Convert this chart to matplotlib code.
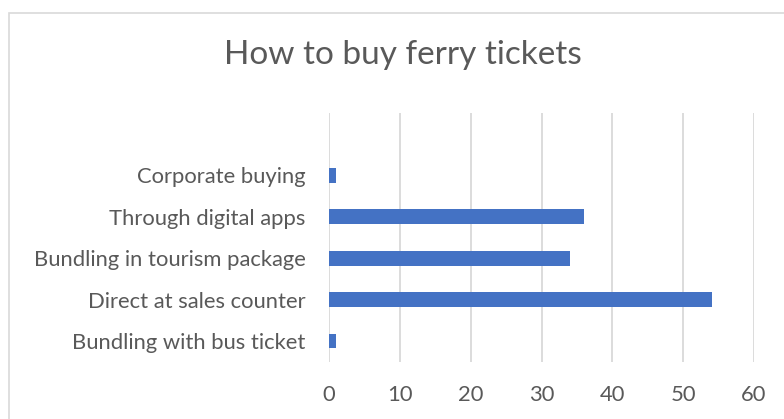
import matplotlib.pyplot as plt
from matplotlib.patches import Rectangle

# data (bottom to top)
categories = ["Bundling with bus ticket", "Direct at sales counter",
              "Bundling in tourism package", "Through digital apps",
              "Corporate buying"]
values = [1, 54, 34, 36, 1]
x_ticks = [0, 10, 20, 30, 40, 50, 60]

plt.rcParams['font.family'] = ['Lato', 'DejaVu Sans']
text_color = '#595959'
grid_color = '#d9d9d9'
bar_color = '#4472c4'

fig = plt.figure(figsize=(7.84, 4.19), dpi=100)

# chart frame (runs off right and bottom edge like the screenshot)
fig.patches.append(Rectangle((9 / 784, -0.05), 1.0, 1 - 13 / 419 + 0.05,
                             transform=fig.transFigure, fill=False,
                             edgecolor=grid_color, linewidth=1.2))

ax = fig.add_axes([329 / 784, (419 - 361.7) / 419,
                   (754 - 329) / 784, (361.7 - 113) / 419])

ypos = list(range(len(categories)))
ax.barh(ypos, values, height=0.36, color=bar_color, zorder=3)

ax.set_xlim(0, 60)
ax.set_ylim(-0.5, len(categories) + 0.5)
ax.set_xticks(x_ticks)
ax.set_yticks(ypos)
ax.set_yticklabels(categories)
ax.grid(axis='x', color=grid_color, linewidth=1.3, zorder=0)
for s in ax.spines.values():
    s.set_visible(False)
ax.tick_params(axis='both', length=0, labelsize=15.8, colors=text_color)
ax.tick_params(axis='x', pad=17)
ax.tick_params(axis='y', pad=17)

fig.text(403 / 784, 1 - 55 / 419, "How to buy ferry tickets", ha='center',
         va='center', fontsize=24, color=text_color)

fig.savefig("out.png", dpi=100)
